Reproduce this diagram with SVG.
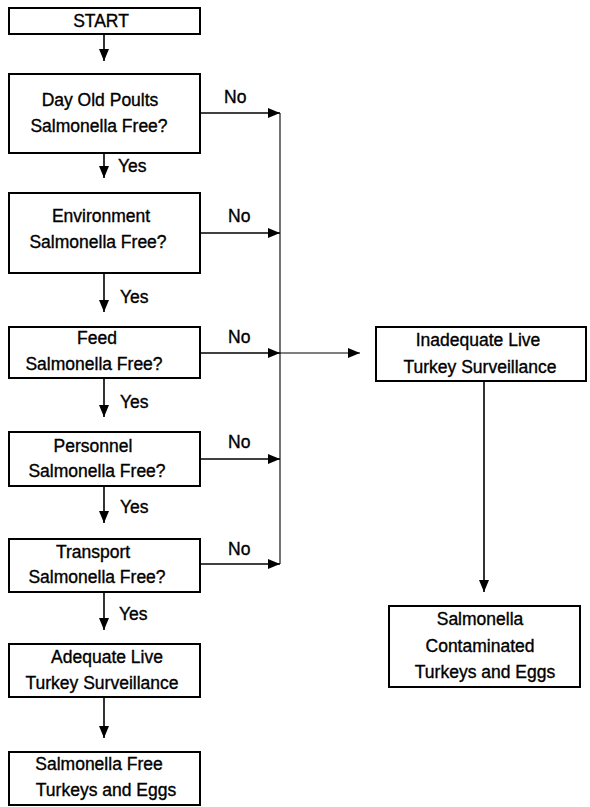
<svg xmlns="http://www.w3.org/2000/svg" width="590" height="807" viewBox="0 0 590 807">
<defs>
<style>
.box{fill:#fff;stroke:#000;stroke-width:2}
.t{font-family:"Liberation Sans",Arial,sans-serif;font-size:17.5px;fill:#000;stroke:#000;stroke-width:0.35;text-anchor:middle}
.lbl{font-family:"Liberation Sans",Arial,sans-serif;font-size:17.5px;fill:#000;stroke:#000;stroke-width:0.35}
.c{fill:none;stroke:#000;stroke-width:1.6}
.thin{fill:none;stroke:#000;stroke-width:1.1}
</style>
<marker id="ah" viewBox="0 0 12 10" refX="12" refY="5" markerWidth="12" markerHeight="10" markerUnits="userSpaceOnUse" orient="auto">
<path d="M0,0 L12,5 L0,10 z" fill="#000"/>
</marker>
</defs>
<rect width="590" height="807" fill="#fff"/>
<g id="connectors">
<line class="c" x1="104" y1="34" x2="104" y2="61" marker-end="url(#ah)"/>
<line class="c" x1="104" y1="153" x2="104" y2="178" marker-end="url(#ah)"/>
<line class="c" x1="104" y1="273" x2="104" y2="312" marker-end="url(#ah)"/>
<line class="c" x1="104" y1="378" x2="104" y2="417" marker-end="url(#ah)"/>
<line class="c" x1="104" y1="486" x2="104" y2="523" marker-end="url(#ah)"/>
<line class="c" x1="104" y1="592" x2="104" y2="630" marker-end="url(#ah)"/>
<line class="c" x1="104" y1="697" x2="104" y2="738" marker-end="url(#ah)"/>
<line class="c" x1="200" y1="113" x2="280" y2="113" marker-end="url(#ah)"/>
<line class="c" x1="200" y1="233" x2="280" y2="233" marker-end="url(#ah)"/>
<line class="c" x1="200" y1="353" x2="280" y2="353" marker-end="url(#ah)"/>
<line class="c" x1="200" y1="459" x2="280" y2="459" marker-end="url(#ah)"/>
<line class="c" x1="200" y1="564" x2="280" y2="564" marker-end="url(#ah)"/>
<line class="thin" x1="280" y1="113" x2="280" y2="564"/>
<line class="thin" x1="280" y1="353" x2="360" y2="353" marker-end="url(#ah)"/>
<line class="c" x1="484" y1="381" x2="484" y2="592" marker-end="url(#ah)"/>
<text class="lbl" x="118" y="172">Yes</text>
<text class="lbl" x="120" y="303">Yes</text>
<text class="lbl" x="120" y="408">Yes</text>
<text class="lbl" x="120" y="513">Yes</text>
<text class="lbl" x="119" y="620">Yes</text>
<text class="lbl" x="224" y="103">No</text>
<text class="lbl" x="228" y="222">No</text>
<text class="lbl" x="228" y="343">No</text>
<text class="lbl" x="228" y="448">No</text>
<text class="lbl" x="228" y="555">No</text>
</g>
<g id="start">
<rect class="box" x="9" y="8" width="191" height="26"/>
<text class="t" x="101" y="27">START</text>
</g>
<g id="day-old-poults">
<rect class="box" x="9" y="74" width="191" height="79"/>
<text class="t" x="100" y="106">Day Old Poults</text>
<text class="t" x="99" y="132">Salmonella Free?</text>
</g>
<g id="environment">
<rect class="box" x="9" y="193" width="191" height="80"/>
<text class="t" x="101" y="222">Environment</text>
<text class="t" x="98" y="248">Salmonella Free?</text>
</g>
<g id="feed">
<rect class="box" x="9" y="327" width="191" height="51"/>
<text class="t" x="97" y="344">Feed</text>
<text class="t" x="94" y="370">Salmonella Free?</text>
</g>
<g id="personnel">
<rect class="box" x="9" y="432" width="191" height="54"/>
<text class="t" x="93" y="452">Personnel</text>
<text class="t" x="97" y="477">Salmonella Free?</text>
</g>
<g id="transport">
<rect class="box" x="9" y="539" width="191" height="53"/>
<text class="t" x="93" y="558">Transport</text>
<text class="t" x="97" y="583">Salmonella Free?</text>
</g>
<g id="adequate">
<rect class="box" x="9" y="644" width="191" height="53"/>
<text class="t" x="107" y="663">Adequate Live</text>
<text class="t" x="102" y="689">Turkey Surveillance</text>
</g>
<g id="salmonella-free">
<rect class="box" x="9" y="752" width="191" height="53"/>
<text class="t" x="99" y="770">Salmonella Free</text>
<text class="t" x="106" y="796">Turkeys and Eggs</text>
</g>
<g id="inadequate">
<rect class="box" x="376" y="327" width="210" height="54"/>
<text class="t" x="478" y="346">Inadequate Live</text>
<text class="t" x="480" y="373">Turkey Surveillance</text>
</g>
<g id="contaminated">
<rect class="box" x="389" y="606" width="191" height="81"/>
<text class="t" x="480" y="625">Salmonella</text>
<text class="t" x="480" y="652">Contaminated</text>
<text class="t" x="485" y="678">Turkeys and Eggs</text>
</g>
</svg>
